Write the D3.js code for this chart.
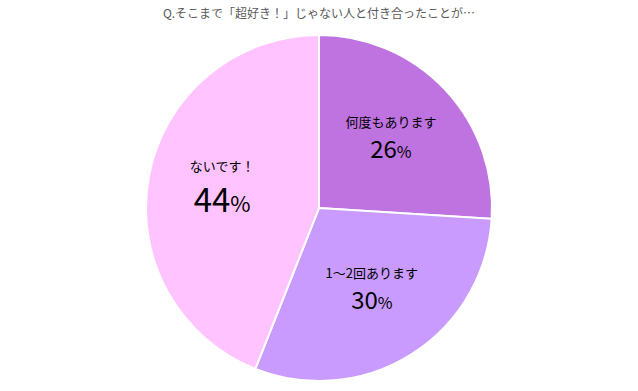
<!DOCTYPE html>
<html>
<head>
<meta charset="utf-8">
<script src="https://cdn.jsdelivr.net/npm/d3@7"></script>
<style>
  body { margin: 0; background: #fff; }
  text { font-family: "Noto Sans CJK JP", "Noto Sans", sans-serif; }
</style>
</head>
<body>
<div id="chartContainer"></div>
<script>
// Data
const title = 'Q.そこまで「超好き！」じゃない人と付き合ったことが…';
const categories = ['何度もあります', '1〜2回あります', 'ないです！'];
const values = [26, 30, 44];

// Dimensions
const width = 638;
const height = 391;
const cx = 319, cy = 208, radius = 173;

const color = d3.scaleOrdinal()
    .domain(categories)
    .range(['#bf73e0', '#c99bfe', '#ffc4ff']);

const svg = d3.select('#chartContainer')
    .append('svg')
    .attr('width', width)
    .attr('height', height);

// Title
svg.append('text')
    .attr('x', width / 2)
    .attr('y', 18)
    .attr('text-anchor', 'middle')
    .attr('font-size', 12)
    .attr('fill', '#595959')
    .text(title);

const data = categories.map((c, i) => ({ name: c, value: values[i] }));

const pie = d3.pie().sort(null).value(d => d.value);
const arc = d3.arc().innerRadius(0).outerRadius(radius);
const labelArc = d3.arc().innerRadius(radius * 0.57).outerRadius(radius * 0.57);

const g = svg.append('g')
    .attr('transform', `translate(${cx},${cy})`);

const arcs = pie(data);

// Slices
g.selectAll('path')
    .data(arcs)
    .join('path')
    .attr('d', arc)
    .attr('fill', d => color(d.data.name))
    .attr('stroke', '#fff')
    .attr('stroke-width', 2);

// Labels
const maxVal = d3.max(values);
const labels = g.selectAll('g.label')
    .data(arcs)
    .join('g')
    .attr('class', 'label')
    .attr('transform', d => `translate(${labelArc.centroid(d)})`);

labels.append('text')
    .attr('text-anchor', 'middle')
    .attr('y', d => d.data.value === maxVal ? -19 : -13)
    .attr('font-size', 13)
    .attr('fill', '#000')
    .text(d => d.data.name);

const pct = labels.append('text')
    .attr('text-anchor', 'middle')
    .attr('y', d => d.data.value === maxVal ? 22 : 18)
    .attr('fill', '#000');

pct.append('tspan')
    .attr('font-size', d => d.data.value === maxVal ? 33 : 24)
    .text(d => d.data.value);
pct.append('tspan')
    .attr('font-size', d => d.data.value === maxVal ? 22 : 16)
    .text('%');
</script>
</body>
</html>
